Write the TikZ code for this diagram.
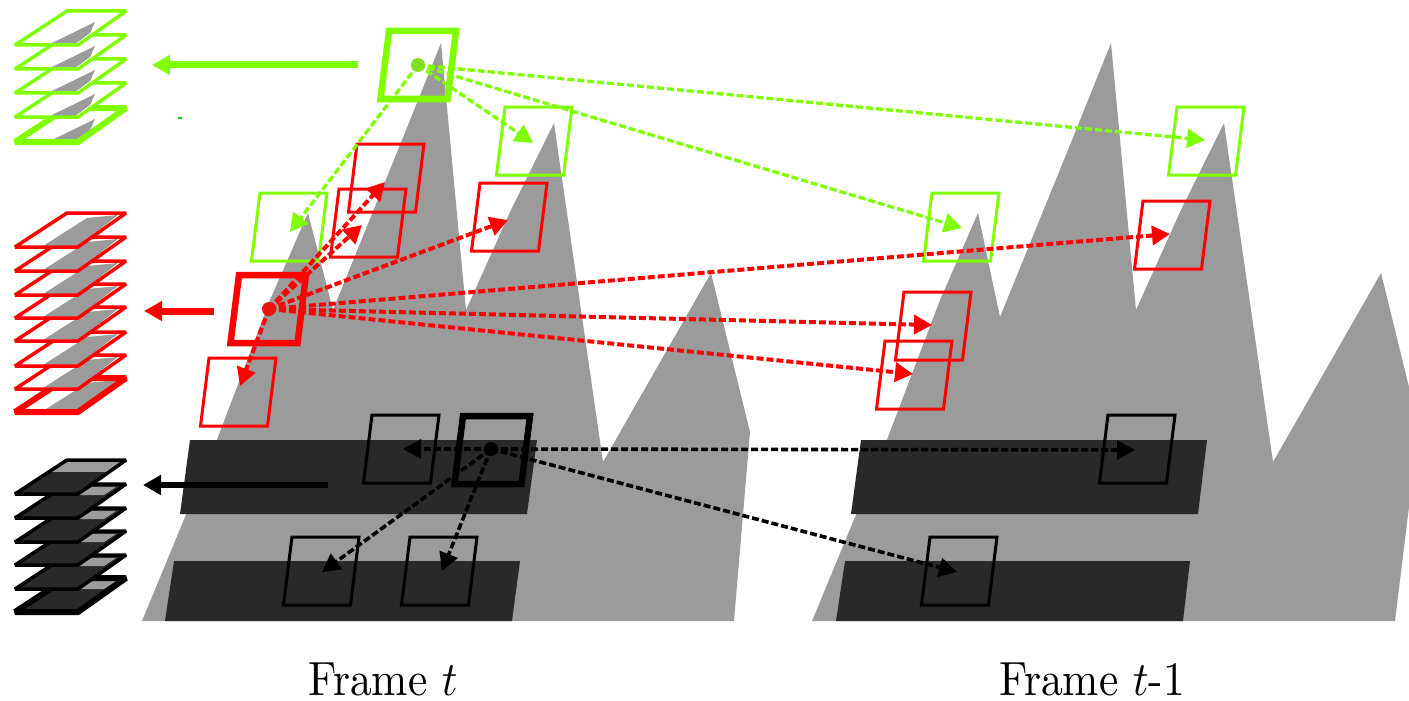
\documentclass[tikz,border=0pt]{standalone}
\usepackage{graphicx}
\usetikzlibrary{arrows.meta}
\definecolor{lime}{RGB}{128,255,0}
\definecolor{slab}{RGB}{41,40,43}
\definecolor{rock}{RGB}{155,155,155}
\begin{document}
\begin{tikzpicture}[x=1pt,y=-1pt,>={Triangle[length=18pt,width=19pt]},
	patch/.style={line width=3pt,line join=miter},
	query/.style={line width=6.5pt,line join=miter},
	link/.style={->,line width=3.3pt,dash pattern=on 7pt off 3pt},
	pull/.style={->,line width=7pt},
	sheet/.style={line width=3.5pt,line join=bevel},
	title/.style={anchor=base}]
\useasboundingbox (0,0) rectangle (1409,701);
\def\patch#1#2{(#1,#2) -- ++(67,0) -- ++(-8.5,68) -- ++(-67,0) -- cycle}
\def\plane#1{(67,#1) -- (126,#1) -- (78,{#1+34}) -- (15,{#1+34}) -- cycle}
% the two frames
\fill[rock] (142,621) -- (190,505) -- (218,437) -- (270,300) -- (308,213) -- (333,310) -- (402,140) -- (441,43)
	-- (466,310) -- (510,212) -- (554,123) -- (603,462) -- (711,273) -- (750,432) -- (734,621) -- cycle;
\fill[rock] (812,621) -- (860,505) -- (888,437) -- (940,300) -- (978,213) -- (1000,317) -- (1072,140) -- (1111,43)
	-- (1136,310) -- (1180,212) -- (1224,123) -- (1273,462) -- (1381,273) -- (1409,387) -- (1409,507) -- (1395,621) -- cycle;
\fill[slab] (190,440) -- (537,440) -- (527,514) -- (180,514) -- cycle;
\fill[slab] (174,561) -- (520,561) -- (512,621) -- (165,621) -- cycle;
\fill[slab] (861,440) -- (1207,440) -- (1198,514) -- (851,514) -- cycle;
\fill[slab] (845,561) -- (1190,561) -- (1183,621) -- (836,621) -- cycle;
% stacks of patches, bottom sheet first
\foreach \y/\w in {108/6,83/3.5,59/3.5,35/3.5,11/3.5}{
	\fill[white] \plane{\y};
	\fill[rock] (95,{\y+11}) -- (50,{\y+33}) -- (75,{\y+33}) -- (90,{\y+22}) -- cycle;
	\draw[sheet,lime,line width=\w pt] \plane{\y};
}
\foreach \y/\w in {378/6,355/3.5,332/3.5,307/3.5,284/3.5,261/3.5,237/3.5,213/3.5}{
	\fill[white] \plane{\y};
	\fill[rock] (43,{\y+33}) -- (87,{\y+5}) -- (118,{\y+2}) -- (78,{\y+33}) -- cycle;
	\draw[sheet,red,line width=\w pt] \plane{\y};
}
\foreach \y/\w in {578/6,555/3.5,531/3.5,508/3.5,484/3.5}{
	\fill[slab] \plane{\y};
	\fill[rock] (77,{\y+11}) -- (92,{\y+3}) -- (116,{\y+3}) -- (104,{\y+11}) -- cycle;
	\draw[sheet,black,line width=\w pt] \plane{\y};
}
\fill[rock] \plane{460};
\fill[slab] (48,472) -- (109,472) -- (78,494) -- (15,494) -- cycle;
\draw[sheet,black] \plane{460};
% patches in the frames
\foreach \x/\y in {260/193,505/107,932/193,1177/107}{
	\draw[patch,lime] \patch{\x}{\y};
}
\foreach \x/\y in {357/144,339/189,480/183,209/358,1143/201,904/292,885/341}{
	\draw[patch,red] \patch{\x}{\y};
}
\foreach \x/\y in {372/415,292/537,410/537,1108/415,930/537}{
	\draw[patch,black] \patch{\x}{\y};
}
\draw[query,lime] \patch{389}{31};
\draw[query,red] \patch{239}{275};
\draw[query,black] \patch{463}{416};
% centres of the patches
\coordinate (greenq) at (418,65);
\coordinate (redq) at (269,309);
\coordinate (blackq) at (491,449);
\foreach \n/\x/\y in {a/290/232,b/533/143,c/962/228,d/1205/140}{
	\coordinate (green\n) at (\x,\y);
}
\foreach \n/\x/\y in {a/385/182,b/362/225,c/508/220,d/1170/234,e/240/386,f/932/325,g/913/374}{
	\coordinate (red\n) at (\x,\y);
}
\foreach \n/\x/\y in {a/403/449,b/1135/450,c/322/572,d/442/571,e/957/572}{
	\coordinate (black\n) at (\x,\y);
}
\foreach \n in {a,b,c,d}{
	\draw[link,lime] (greenq) -- (green\n);
}
\foreach \n in {a,b,c,d,e,f,g}{
	\draw[link,red,line width=4pt] (redq) -- (red\n);
}
\foreach \n in {a,b,c,d,e}{
	\draw[link,black,line width=3.6pt] (blackq) -- (black\n);
}
\fill[lime!75!gray] (greenq) circle[radius=7];
\fill[red!85!gray] (redq) circle[radius=7];
\fill[black] (blackq) circle[radius=7];
% arrows to the stacks
\coordinate (greenout) at (358,65);
\coordinate (greenin) at (152,65);
\coordinate (redout) at (214,311);
\coordinate (redin) at (144,311);
\coordinate (blackout) at (328,485);
\coordinate (blackin) at (143,485);
\draw[pull,lime] (greenout) -- (greenin);
\draw[pull,red] (redout) -- (redin);
\draw[pull,black,line width=6pt] (blackout) -- (blackin);
\fill[green!85!black] (178,117) rectangle (182,119);
% labels
\node[title] (framet) at (383,695) {\scalebox{4.35}[4.8]{Frame $t$}};
\node[title] (frameprev) at (1092,695) {\scalebox{4.35}[4.8]{Frame $t$-1}};
\end{tikzpicture}
\end{document}
